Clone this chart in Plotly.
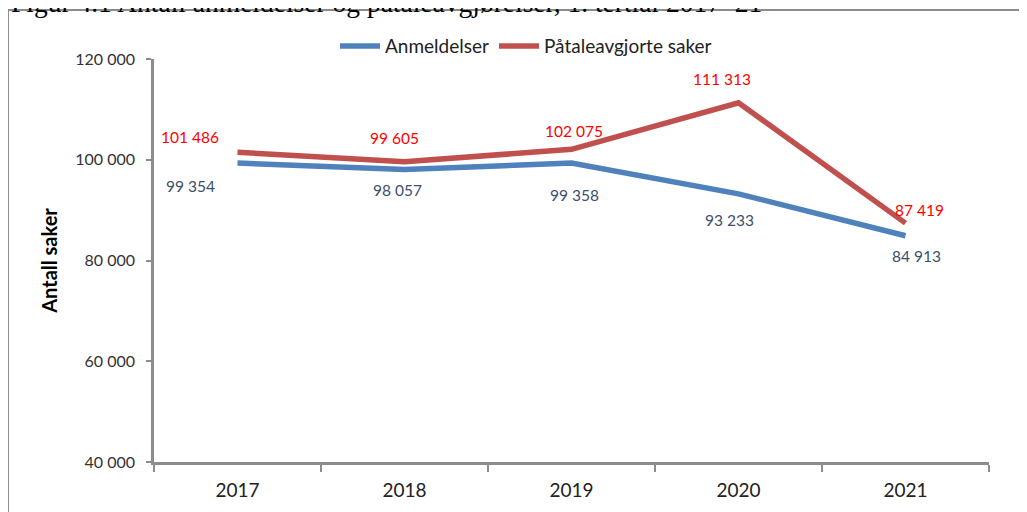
import plotly.graph_objects as go

years = ["2017", "2018", "2019", "2020", "2021"]
anmeldelser = [99354, 98057, 99358, 93233, 84913]
paatale = [101486, 99605, 102075, 111313, 87419]

series_names = ["Anmeldelser", "Påtaleavgjorte saker"]
y_ticks = [40000, 60000, 80000, 100000, 120000]
title_text = "Figur 4.1 Antall anmeldelser og påtaleavgjørelser, 1. tertial 2017–21"
y_title = "Antall saker"

# label offsets (pixels) relative to each point
red_dx = [-48, -10, 2, -17, 14]
red_dy = [15, 24, 18, 24, 13]
blue_dx = [-47, -7, 3, -9, 11]
blue_dy = [-23, -20, -32, -26, -20]


def fmt(v):
    return f"{v:,}".replace(",", " ")


fig = go.Figure()
fig.add_trace(go.Scatter(x=years, y=anmeldelser, mode="lines", name=series_names[0],
                         line=dict(color="#4F81BD", width=5.5)))
fig.add_trace(go.Scatter(x=years, y=paatale, mode="lines", name=series_names[1],
                         line=dict(color="#C0504D", width=5.5)))

ann = []
for i, yr in enumerate(years):
    ann.append(dict(x=i, y=paatale[i], xref="x", yref="y", text=fmt(paatale[i]),
                    showarrow=False, xshift=red_dx[i], yshift=red_dy[i],
                    font=dict(family="Lato", size=15.5, color="#FF0000")))
    ann.append(dict(x=i, y=anmeldelser[i], xref="x", yref="y", text=fmt(anmeldelser[i]),
                    showarrow=False, xshift=blue_dx[i], yshift=blue_dy[i],
                    font=dict(family="Lato", size=15.5, color="#3C4E6E")))

ann.append(dict(x=-0.1737, y=1.096, xref="paper", yref="paper", xanchor="left", yanchor="bottom",
                text=title_text, showarrow=False,
                font=dict(family="Liberation Serif", size=27.5, color="#000000")))

fig.update_layout(
    width=1027, height=512,
    margin=dict(l=146, r=46, t=51, b=58),
    paper_bgcolor="white", plot_bgcolor="white",
    separators=", ",
    showlegend=True,
    legend=dict(orientation="h", x=0.4455, xanchor="center", y=1.032, yanchor="middle",
                font=dict(family="Lato", size=19, color="#222222"),
                itemwidth=40, bgcolor="rgba(0,0,0,0)"),
    annotations=ann,
    shapes=[dict(type="rect", xref="paper", yref="paper",
                 x0=-0.1749, x1=1.08, y0=-0.25, y1=1.1216,
                 line=dict(color="#8C8C8C", width=2), fillcolor="rgba(0,0,0,0)", layer="above")],
)

fig.update_xaxes(type="category", range=[-0.5, 4.5], tickson="boundaries",
                 ticks="outside", ticklen=7, tickwidth=2, tickcolor="#8C8C8C",
                 showline=True, linecolor="#8C8C8C", linewidth=2.5,
                 showgrid=False, zeroline=False, ticklabelstandoff=9,
                 tickfont=dict(family="Lato", size=19, color="#222222"))
fig.update_yaxes(range=[40000, 120000], tickvals=y_ticks, tickformat=",d",
                 ticks="outside", ticklen=5, tickwidth=2, tickcolor="#8C8C8C",
                 showline=True, linecolor="#8C8C8C", linewidth=2.5,
                 showgrid=False, zeroline=False, ticklabelstandoff=8,
                 tickfont=dict(family="Lato", size=16, color="#333333"),
                 title=dict(text=y_title, standoff=13,
                            font=dict(family="Lato", size=20, color="#000000", weight="bold")))

fig.write_html("out.html")
